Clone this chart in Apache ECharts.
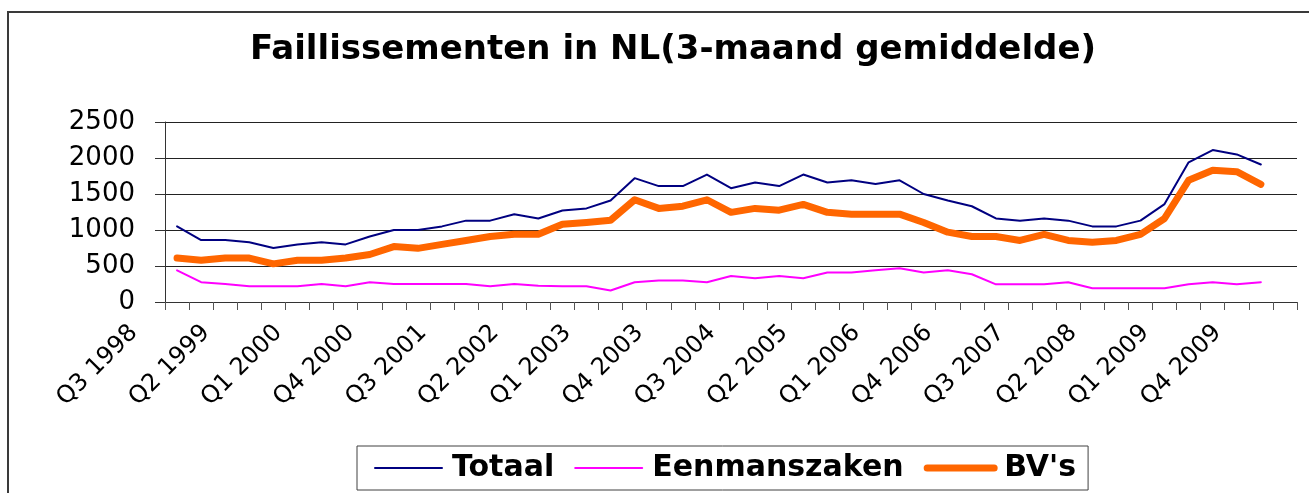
<!DOCTYPE html>
<html>
<head>
<meta charset="utf-8">
<script src="https://cdn.jsdelivr.net/npm/echarts@6/dist/echarts.min.js"></script>
<style>
  html, body { margin: 0; padding: 0; background: #fff; }
  #chart { position: absolute; left: 0; top: 0; width: 1309px; height: 493px; }
  #frame { position: absolute; left: 7px; top: 11px; width: 1320px; height: 500px;
           border-left: 2px solid #3a3a3a; border-top: 2px solid #3a3a3a; pointer-events: none; }
</style>
</head>
<body>
<div id="chart"></div>
<div id="frame"></div>
<script>
const titleText = 'Faillissementen in NL(3-maand gemiddelde)';

const categories = [
  'Q3 1998','Q4 1998',
  'Q1 1999','Q2 1999','Q3 1999','Q4 1999',
  'Q1 2000','Q2 2000','Q3 2000','Q4 2000',
  'Q1 2001','Q2 2001','Q3 2001','Q4 2001',
  'Q1 2002','Q2 2002','Q3 2002','Q4 2002',
  'Q1 2003','Q2 2003','Q3 2003','Q4 2003',
  'Q1 2004','Q2 2004','Q3 2004','Q4 2004',
  'Q1 2005','Q2 2005','Q3 2005','Q4 2005',
  'Q1 2006','Q2 2006','Q3 2006','Q4 2006',
  'Q1 2007','Q2 2007','Q3 2007','Q4 2007',
  'Q1 2008','Q2 2008','Q3 2008','Q4 2008',
  'Q1 2009','Q2 2009','Q3 2009','Q4 2009',
  'Q1 2010'
];

const totaal = [
  1050, 860, 860, 830, 750, 800, 830, 800, 910, 1000,
  1000, 1050, 1130, 1130, 1220, 1160, 1270, 1300, 1410, 1720,
  1610, 1610, 1770, 1580, 1660, 1610, 1770, 1660, 1690, 1640,
  1690, 1500, 1410, 1330, 1160, 1130, 1160, 1130, 1050, 1050,
  1130, 1360, 1940, 2110, 2050, 1910, null
];

const eenmanszaken = [
  440, 275, 250, 220, 220, 220, 250, 220, 275, 250,
  250, 250, 250, 220, 250, 225, 220, 220, 160, 275,
  300, 300, 275, 360, 330, 360, 330, 410, 410, 440,
  470, 410, 440, 385, 245, 245, 245, 275, 190, 190,
  190, 190, 245, 275, 245, 275, null
];

const bvs = [
  610, 580, 610, 610, 530, 580, 580, 610, 660, 770,
  745, 800, 855, 910, 940, 940, 1080, 1105, 1135, 1420,
  1300, 1330, 1420, 1245, 1300, 1275, 1355, 1245, 1220, 1220,
  1220, 1105, 970, 910, 910, 855, 940, 855, 830, 855,
  940, 1160, 1690, 1830, 1810, 1635, null
];

const seriesNames = ['Totaal', 'Eenmanszaken', "BV's"];
const seriesColors = ['#000080', '#FF00FF', '#FF6600'];
const seriesWidths = [2, 2, 7];

const chart = echarts.init(document.getElementById('chart'), null, { renderer: 'canvas' });

const font = 'DejaVu Sans';

chart.setOption({
  animation: false,
  backgroundColor: 'transparent',
  title: {
    text: titleText,
    left: 245,
    top: 28,
    textStyle: { fontFamily: font, fontWeight: 'bold', fontSize: 34, color: '#000' }
  },
  legend: {
    data: seriesNames.map((n, i) => ({ name: n, lineStyle: { width: seriesWidths[i], color: seriesColors[i], cap: 'round' } })),
    left: 357,
    top: 446,
    orient: 'horizontal',
    padding: [7, 12, 7, 17],
    borderColor: '#404040',
    borderWidth: 1,
    itemWidth: 67,
    itemHeight: 14,
    itemGap: 20,
    itemStyle: { opacity: 0 },
    textStyle: { fontFamily: font, fontWeight: 'bold', fontSize: 30, color: '#000', padding: [0, 0, 0, 5] }
  },
  grid: { left: 165, right: 12, top: 122, bottom: 191, containLabel: false },
  xAxis: {
    type: 'category',
    data: categories,
    boundaryGap: true,
    axisLine: { show: true, lineStyle: { color: '#333', width: 1 } },
    axisTick: { show: true, interval: 0, length: 8, lineStyle: { color: '#555' } },
    axisLabel: {
      interval: 2,
      rotate: 45,
      margin: -16,
      verticalAlign: 'middle',
      padding: [0, 61, 0, 0],
      fontFamily: font,
      fontSize: 24,
      color: '#000'
    },
    splitLine: { show: false }
  },
  yAxis: {
    type: 'value',
    min: 0,
    max: 2500,
    interval: 500,
    axisLine: { show: true, lineStyle: { color: '#333', width: 1 } },
    axisTick: { show: true, length: 10, lineStyle: { color: '#333' } },
    axisLabel: { margin: 30, fontFamily: font, fontSize: 26, color: '#000', formatter: v => String(v) },
    splitLine: { show: true, lineStyle: { color: '#222', width: 1 } }
  },
  series: seriesNames.map((n, i) => ({
    name: n,
    type: 'line',
    data: [totaal, eenmanszaken, bvs][i],
    symbol: 'none',
    lineStyle: { color: seriesColors[i], width: seriesWidths[i], cap: 'round', join: 'round' },
    itemStyle: { color: seriesColors[i] },
    z: 3 - i
  }))
});
</script>
</body>
</html>
